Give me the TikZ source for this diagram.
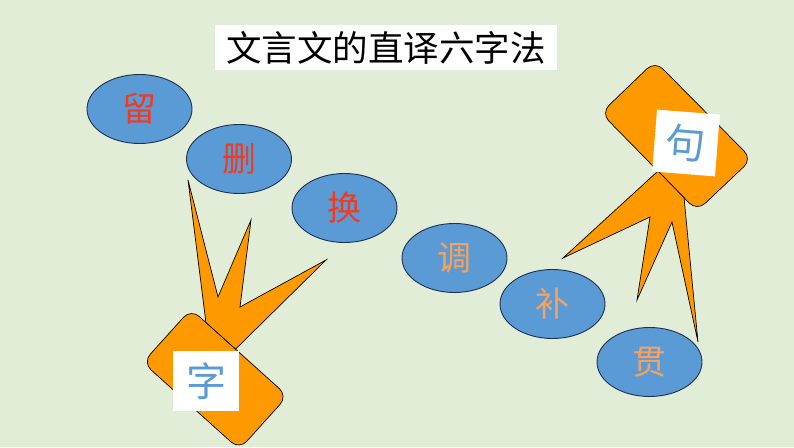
\documentclass[tikz,border=0pt]{standalone}
\usepackage{fontspec}
\newfontfamily\cjk{Noto Sans CJK SC}
\usetikzlibrary{shapes.geometric}
\definecolor{bgC}{HTML}{E2EDD7}
\definecolor{blueC}{HTML}{5B9BD5}
\definecolor{orangeC}{HTML}{FF9900}
\definecolor{redT}{HTML}{F23A1E}
\definecolor{orangeT}{HTML}{F6A25E}
\definecolor{edgeC}{HTML}{1F2F4F}
\begin{document}
\begin{tikzpicture}[x=1pt,y=-1pt,
  bubble/.style={ellipse,draw=edgeC,line width=0.9pt,fill=blueC,minimum width=105pt,minimum height=69pt,inner sep=0pt,
    font=\cjk\fontsize{34}{34}\selectfont},
  callout/.style={fill=orangeC,draw=black,line width=0.7pt,line join=miter},
  labelbox/.style={fill=white,minimum width=66pt,minimum height=60pt,inner sep=0pt,text=blueC,
    font=\cjk\fontsize{40}{40}\selectfont},
  titlebox/.style={fill=white,minimum width=342pt,minimum height=45pt,inner sep=0pt,
    font=\cjk\fontsize{35.5}{35.5}\selectfont}]
\fill[bgC] (0,0) rectangle (794,447);
\useasboundingbox (0,0) rectangle (794,447);
\clip (0,0) rectangle (794,447);

% left callout
\draw[callout,rounded corners=11pt] (191,309) -- (287.6,396) -- (239.4,449.5) -- (142.8,362.5) -- cycle;
\draw[callout] (205.9,322.4) -- (188,180) -- (218,297) -- (251,220) -- (240,307) -- (326,260) -- (235.6,349.1) -- cycle;

% right callout
\draw[callout,rounded corners=11pt] (655,61) -- (752,159) -- (697,211) -- (601,113) -- cycle;
\draw[callout] (658,171) -- (563,258) -- (650,217) -- (637,300) -- (672,222) -- (698,342) -- (684,197.7) -- cycle;

% title
\node[titlebox] (title) at (386,47.5) {文言文的直译六字法};

% bubbles
\node[bubble,text=redT] (liu) at (139.5,109) {留};
\node[bubble,text=redT] (shan) at (239,159) {删};
\node[bubble,text=redT] (huan) at (344.5,208) {换};
\node[bubble,text=orangeT] (diao) at (454.5,258) {调};
\node[bubble,text=orangeT] (bu) at (552.5,304) {补};
\node[bubble,text=orangeT] (guan) at (649.5,362) {贯};

% labels
\node[labelbox] (zi) at (206,381) {字};
\node[labelbox,rotate=-4.5,minimum width=63pt,minimum height=62pt] (ju) at (686,143) {句};
\end{tikzpicture}
\end{document}
